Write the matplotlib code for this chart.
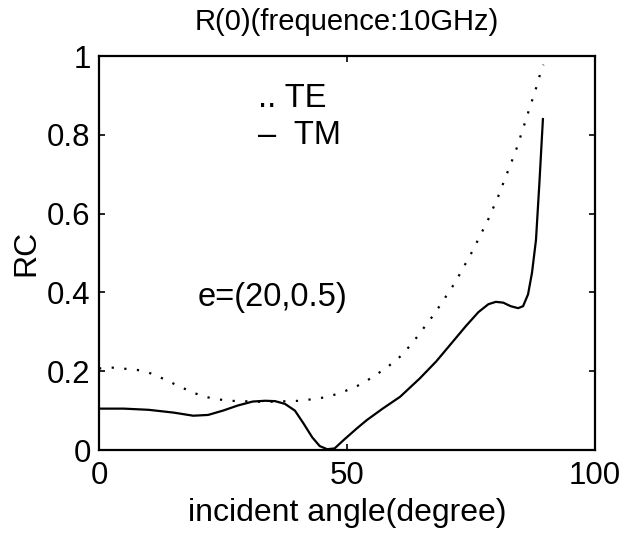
import matplotlib
matplotlib.use("Agg")
import matplotlib.pyplot as plt

plt.rcParams['font.family'] = ['Liberation Sans', 'DejaVu Sans']

# TE (dotted) curve
te_angle = [0, 2.8, 5.4, 7.8, 10.1, 12.4, 14.6, 16.8, 19.1, 21.4, 23.8, 26.2, 28.6,
            33.5, 38.3, 40.7, 43, 45.2, 47.4, 49.7, 52, 54, 56.1, 58.2, 61, 63.4,
            67.7, 71.8, 75.3, 78.5, 80.5, 82.2, 84, 85.5, 87, 88.5, 89.1, 89.6]
te_rc = [0.207, 0.209, 0.206, 0.203, 0.196, 0.184, 0.171, 0.158, 0.145, 0.135, 0.129,
         0.125, 0.124, 0.122, 0.124, 0.125, 0.129, 0.133, 0.140, 0.150, 0.162, 0.176,
         0.193, 0.211, 0.240, 0.275, 0.347, 0.425, 0.505, 0.586, 0.644, 0.700, 0.758,
         0.816, 0.875, 0.933, 0.963, 0.978]

# TM (solid) curve
tm_angle = [0, 5, 10, 15, 19, 22, 25, 28, 31, 33.5, 35.5, 37.5, 39.5, 41.2, 43, 44.5,
            46, 47.5, 49.3, 52, 54, 57.3, 60.7, 64.7, 68, 71, 74, 76.5, 78.5, 80,
            81.5, 83, 84.5, 85.5, 86.5, 87.3, 88.1, 88.8, 89.5]
tm_rc = [0.105, 0.105, 0.102, 0.095, 0.087, 0.089, 0.100, 0.113, 0.123, 0.125, 0.124,
         0.117, 0.100, 0.068, 0.032, 0.010, 0.002, 0.004, 0.025, 0.055, 0.076, 0.106,
         0.135, 0.182, 0.225, 0.270, 0.315, 0.350, 0.370, 0.376, 0.374, 0.365, 0.360,
         0.365, 0.395, 0.450, 0.533, 0.680, 0.840]

x_ticks = [0, 50, 100]
y_ticks = [0, 0.2, 0.4, 0.6, 0.8, 1]
y_ticklabels = ['0', '0.2', '0.4', '0.6', '0.8', '1']

fig = plt.figure(figsize=(6.25, 5.35), dpi=100)
ax = fig.add_axes([99 / 625, 85 / 535, 496 / 625, 394 / 535])

ax.plot(te_angle, te_rc, color='black', lw=1.6, linestyle=(0, (1, 4.7)))
ax.plot(tm_angle, tm_rc, color='black', lw=1.6, linestyle='-')

ax.set_xlim(0, 100)
ax.set_ylim(0, 1)
ax.set_xticks(x_ticks)
ax.set_xticklabels([str(v) for v in x_ticks])
ax.set_yticks(y_ticks)
ax.set_yticklabels(y_ticklabels)
ax.tick_params(direction='in', length=4, width=1.2, labelsize=22.5,
               top=True, right=True)
ax.tick_params(axis='x', pad=8)
ax.tick_params(axis='y', pad=6)
for s in ax.spines.values():
    s.set_linewidth(1.6)

ax.set_title('R(0)(frequence:10GHz)', fontsize=21, pad=19)
ax.set_xlabel('incident angle(degree)', fontsize=23, labelpad=5)
ax.set_ylabel('RC', fontsize=23, labelpad=4)

ax.text(32.1, 0.893, '.. TE', fontsize=23.5, va='center', ha='left')
ax.text(32.1, 0.797, '\u2013  TM', fontsize=23.5, va='center', ha='left')
ax.text(19.8, 0.386, 'e=(20,0.5)', fontsize=23.5, va='center', ha='left')

fig.savefig('out.png', dpi=100)
